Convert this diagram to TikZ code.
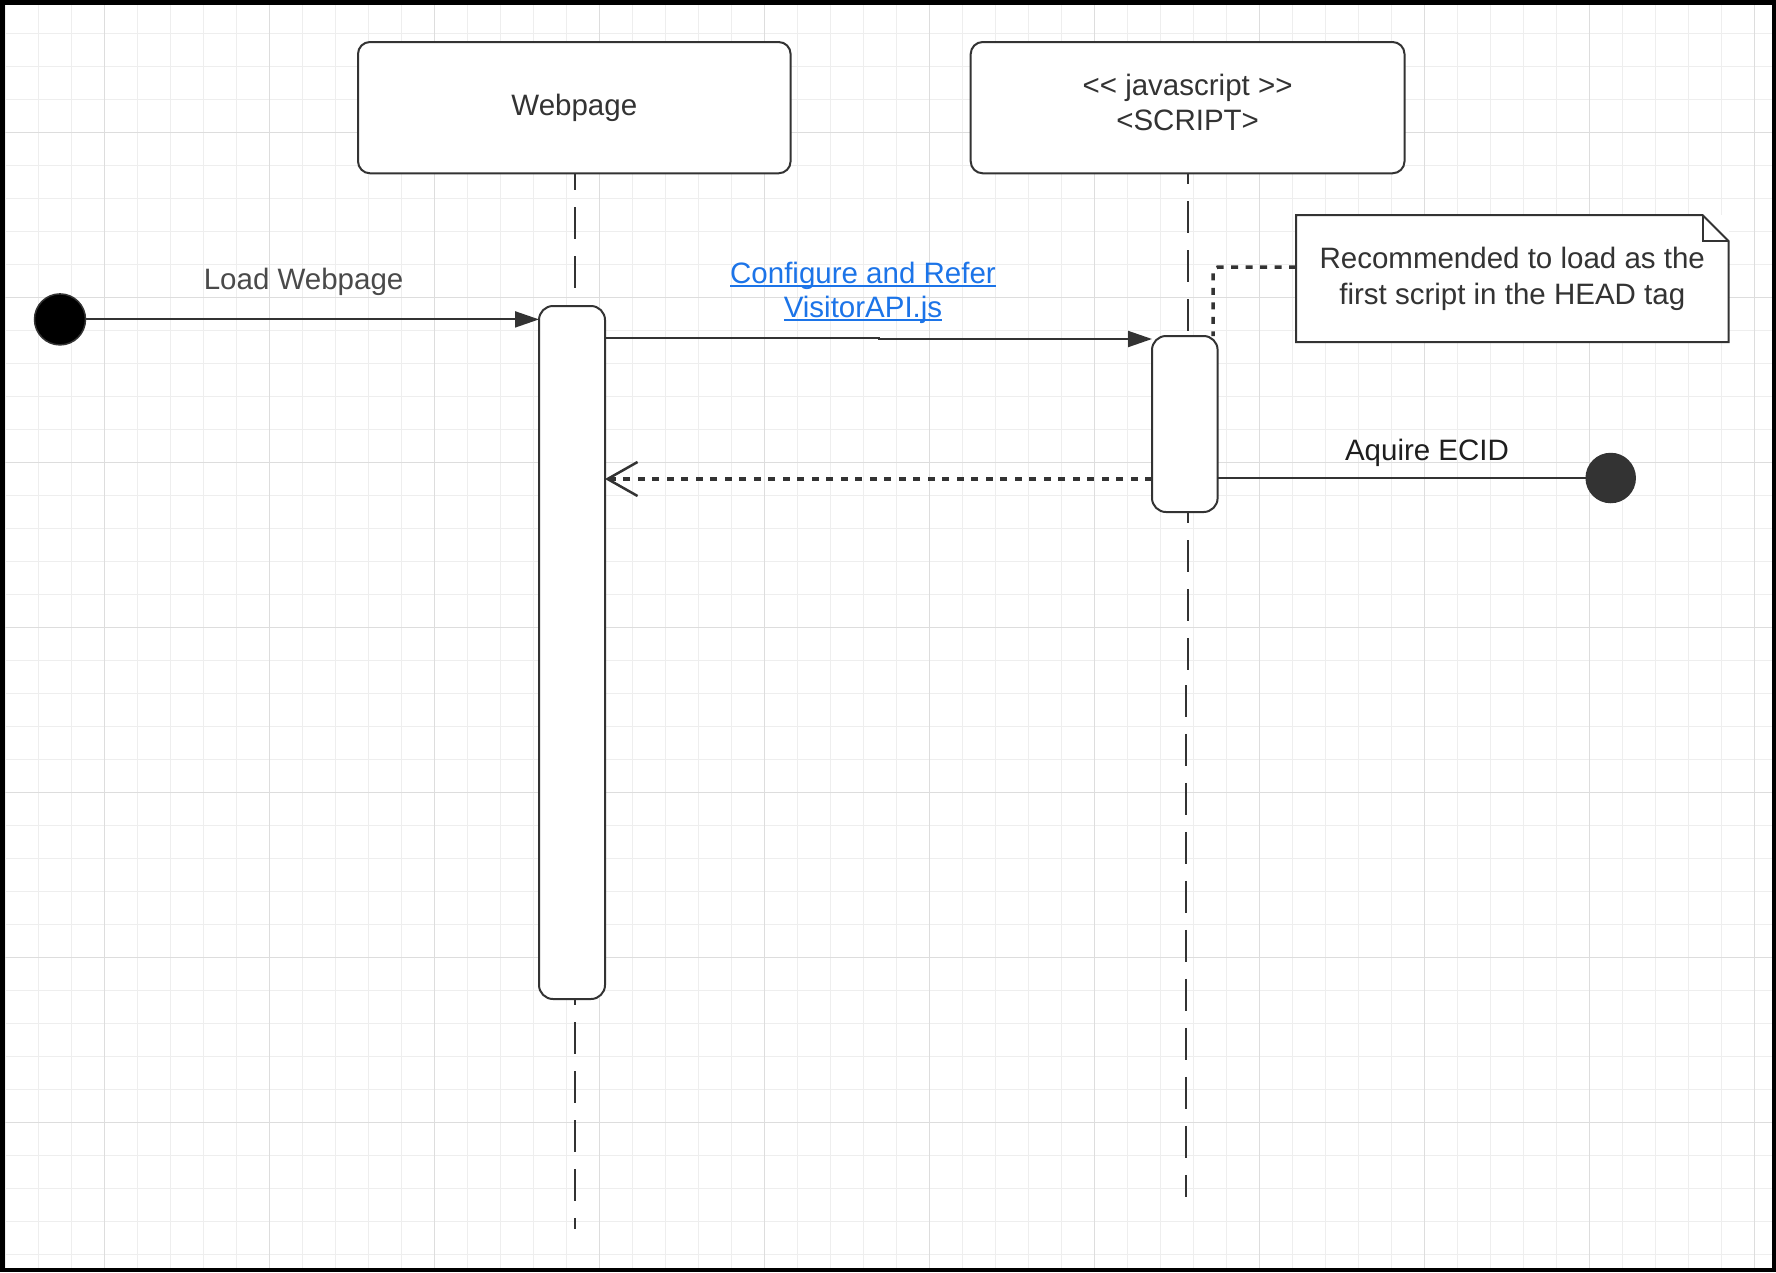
\documentclass[tikz,border=0pt]{standalone}
\usepackage{fontspec}
\newfontfamily\diagfont{Liberation Sans}
\usetikzlibrary{arrows.meta}

\definecolor{ink}{HTML}{333333}
\definecolor{softink}{HTML}{4A4A4A}
\definecolor{darkink}{HTML}{1E1E1E}
\definecolor{linkblue}{RGB}{28,116,232}
\definecolor{gridminor}{HTML}{EEEEEE}
\definecolor{gridmajor}{HTML}{DDDDDD}

% underlined hyperlink-style text
\newcommand\ulinktext[1]{\setbox0\hbox{#1}\rlap{\rule[-3.5pt]{\wd0}{2pt}}\box0}

\begin{document}
\begin{tikzpicture}[x=1pt,y=-1pt,
  minorline/.style={draw=gridminor,line width=1.3pt},
  majorline/.style={draw=gridmajor,line width=1.6pt},
  lifebox/.style={rectangle,draw=ink,line width=2pt,fill=white,rounded corners=12pt,outer sep=0pt,inner sep=0pt},
  actbox/.style={rectangle,draw=ink,line width=2pt,fill=white,rounded corners=14pt,outer sep=0pt,inner sep=0pt},
  notebox/.style={rectangle,fill=white,outer sep=0pt,inner sep=0pt},
  noteline/.style={draw=ink,line width=2pt,line join=miter},
  lifeline/.style={draw=ink,line width=2pt,dash pattern=on 32pt off 17pt},
  startdot/.style={circle,fill=black,draw=ink,line width=1.5pt,inner sep=0pt,outer sep=0pt},
  enddot/.style={circle,fill=ink,draw=ink,line width=1.5pt,inner sep=0pt,outer sep=0pt},
  plain/.style={draw=ink,line width=2pt},
  msg/.style={plain,-{Triangle[length=24pt,width=16pt]}},
  dotline/.style={draw=ink,line width=3.5pt,dash pattern=on 7pt off 7.5pt},
  reply/.style={dotline,-{Straight Barb[length=30pt,width=34pt,line width=2.5pt]}},
  txt/.style={anchor=base,inner sep=0pt,font=\diagfont\fontsize{29.5pt}{34.5pt}\selectfont}
]
\useasboundingbox (0,0) rectangle (1776,1272);
\fill[white] (0,0) rectangle (1776,1272);

% background grid
\foreach \k in {0,...,53} \draw[minorline] ({5.3+33*\k},0) -- ({5.3+33*\k},1272);
\foreach \k in {0,...,38} \draw[minorline] (0,{0.3+33*\k}) -- (1776,{0.3+33*\k});
\foreach \k in {0,...,10} \draw[majorline] ({104.3+165*\k},0) -- ({104.3+165*\k},1272);
\foreach \k in {0,...,6} \draw[majorline] (0,{132.3+165*\k}) -- (1776,{132.3+165*\k});

% frame
\draw[line width=4.5pt] (2.25,2.25) rectangle (1773.75,1269.75);

% lifeline heads
\node[lifebox,minimum width=432.6pt,minimum height=131.3pt] (wp) at (574.3,107.65) {};
\node[lifebox,minimum width=433.8pt,minimum height=131.3pt] (sc) at (1187.6,107.65) {};
\node[txt,text=ink] (wpt) at (574.3,115) {Webpage};
\node[txt,text=ink] (sct1) at (1187.6,95.5) {<< javascript >>};
\node[txt,text=ink] (sct2) at (1187.6,130.5) {<SCRIPT>};

% activation bars
\node[actbox,minimum width=66pt,minimum height=693pt] (wpa) at (572,652.5) {};
\node[actbox,minimum width=65.6pt,minimum height=176pt] (sca) at (1184.8,424) {};

% lifelines
\coordinate (wpend) at (575.4,1229);
\coordinate (scjog) at (1188.2,686);
\coordinate (scend) at (1186,1197);
\draw[lifeline,dash phase=15pt] (wp.south -| wpend) -- (wpa.north -| wpend);
\draw[lifeline,dash phase=26pt] (wpa.south -| wpend) -- (wpend);
\draw[lifeline,dash phase=21pt] (sc.south -| scjog) -- (sca.north -| scjog);
\draw[lifeline,dash phase=21pt] (sca.south -| scjog) -- (scjog) -- (scjog -| scend) -- (scend);

% start and end points
\node[startdot,minimum size=51pt] (start) at (60,319.4) {};
\node[enddot,minimum size=49pt] (stop) at (1610.7,478) {};

% messages
\draw[msg] (start) -- (start -| wpa.west);
\node[txt,text=softink] (ldl) at (303.6,289.3) {Load Webpage};

\coordinate (cfgbend) at (879,337.7);
\coordinate (cfgbendb) at (879,339);
\draw[msg] (wpa.east |- cfgbend) -- (cfgbend) -- (cfgbendb) -- (cfgbendb -| sca.west);
\node[txt,text=linkblue] (cfg1) at (863,283.3) {\ulinktext{Configure and Refer}};
\node[txt,text=linkblue] (cfg2) at (863,317.8) {\ulinktext{VisitorAPI.js}};

\coordinate (ret) at (878.6,479);
\draw[reply] (ret -| sca.west) -- (ret -| wpa.east);

\draw[plain] (sca.east |- stop) -- (stop);
\node[txt,text=darkink] (aql) at (1427,460) {Aquire ECID};

% note with folded corner
\node[notebox,minimum width=432.5pt,minimum height=127pt] (note) at (1512.25,278.5) {};
\draw[noteline] (note.north west) -- ([xshift=-26pt]note.north east) -- ([yshift=-26pt]note.north east) -- (note.south east) -- (note.south west) -- cycle;
\draw[noteline] ([xshift=-26pt]note.north east) |- ([yshift=-26pt]note.north east);
\node[txt,text=ink] (nt1) at (1512.25,268.5) {Recommended to load as the};
\node[txt,text=ink] (nt2) at (1512.25,304.5) {first script in the HEAD tag};

\coordinate (notefoot) at ([xshift=28.2pt]sca.north);
\draw[dotline,rounded corners=5pt] ([yshift=11.5pt]note.west) -| (notefoot);
\end{tikzpicture}
\end{document}
